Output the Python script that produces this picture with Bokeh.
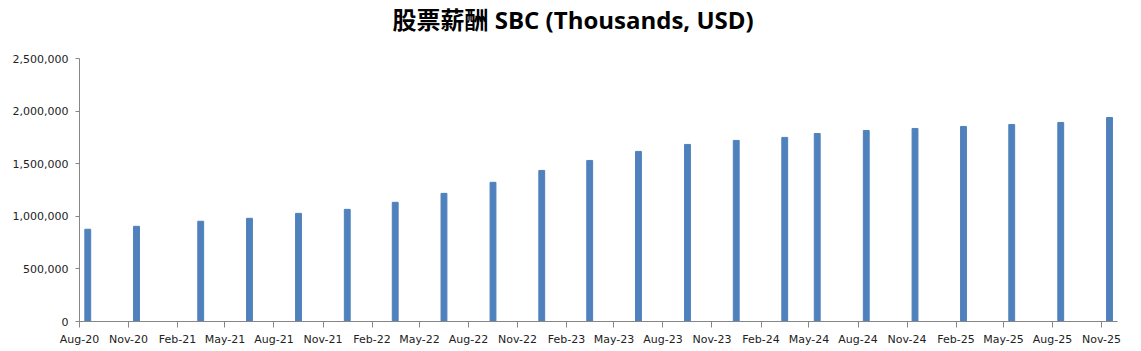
import pandas as pd
from bokeh.plotting import figure
from bokeh.models import (ColumnDataSource, FixedTicker, NumeralTickFormatter,
                          DatetimeTickFormatter, Range1d, Title)
from bokeh.embed import file_html
from bokeh.resources import INLINE

# ---- data ----
months = ["2020-08", "2020-11", "2021-03", "2021-06", "2021-09", "2021-12",
          "2022-03", "2022-06", "2022-09", "2022-12", "2023-03", "2023-06",
          "2023-09", "2023-12", "2024-03", "2024-05", "2024-08", "2024-11",
          "2025-02", "2025-05", "2025-08", "2025-11"]
sbc = [877000, 905000, 953000, 981000, 1028000, 1066000,
       1133000, 1218000, 1323000, 1436000, 1531000, 1617000,
       1683000, 1721000, 1750000, 1787000, 1816000, 1835000,
       1854000, 1873000, 1892000, 1939000]
tick_months = ["2020-08", "2020-11", "2021-02", "2021-05", "2021-08", "2021-11",
               "2022-02", "2022-05", "2022-08", "2022-11", "2023-02", "2023-05",
               "2023-08", "2023-11", "2024-02", "2024-05", "2024-08", "2024-11",
               "2025-02", "2025-05", "2025-08", "2025-11"]
y_ticks = [0, 500000, 1000000, 1500000, 2000000, 2500000]
title_text = "股票薪酬 SBC (Thousands, USD)"

# month slots: bar centred in its month
starts = pd.to_datetime(months, format="%Y-%m")
ends = starts + pd.offsets.MonthBegin(1)
centers = starts + (ends - starts) / 2

src = ColumnDataSource(dict(x=centers, top=sbc))

x_start = pd.Timestamp(tick_months[0] + "-01")
x_end = pd.Timestamp(tick_months[-1] + "-01") + pd.offsets.MonthBegin(1)

p = figure(width=1141, height=351, x_axis_type="datetime",
           output_backend="svg", toolbar_location=None,
           x_range=Range1d(x_start, x_end), y_range=Range1d(0, 2500000),
           min_border_left=79, min_border_right=24, min_border_bottom=30,
           min_border_top=0)

p.vbar(x="x", top="top", width=11 * 24 * 3600 * 1000, source=src,
       color="#4F81BD", line_color="#4F81BD")

# spacer between frame and title
p.add_layout(Title(text=" ", text_font_size="1px", standoff=20), "above")

p.title.text = title_text
p.title.align = "left"
p.title.offset = 313
p.title.text_font = "Open Sans, Noto Sans CJK SC"
p.title.text_font_size = "24px"
p.title.text_font_style = "bold"
p.title.text_color = "#000000"
p.title.standoff = 0

p.outline_line_color = None
p.xgrid.grid_line_color = None
p.ygrid.grid_line_color = None

tick_ms = [pd.Timestamp(m + "-01").value // 10**6 for m in tick_months]
xa = p.xaxis[0]
xa.ticker = FixedTicker(ticks=tick_ms)
fmt = "%b-%y"
xa.formatter = DatetimeTickFormatter(days=fmt, months=fmt, years=fmt,
                                     hours=fmt, minutes=fmt, seconds=fmt,
                                     milliseconds=fmt, microseconds=fmt, hourmin=fmt, minsec=fmt)
xa.minor_tick_line_color = None

ya = p.yaxis[0]
ya.ticker = FixedTicker(ticks=y_ticks)
ya.formatter = NumeralTickFormatter(format="0,0")
ya.minor_tick_line_color = None

for ax in (xa, ya):
    ax.axis_line_color = "#868686"
    ax.major_tick_line_color = "#868686"
    ax.major_tick_in = 0
    ax.major_label_text_font = "DejaVu Sans"
    ax.major_label_text_font_size = "11px"
    ax.major_label_text_color = "#222222"
xa.major_tick_out = 6
xa.major_label_standoff = 5
ya.major_tick_out = 4
ya.major_label_standoff = 7

open("out.html", "w").write(file_html(p, INLINE))
